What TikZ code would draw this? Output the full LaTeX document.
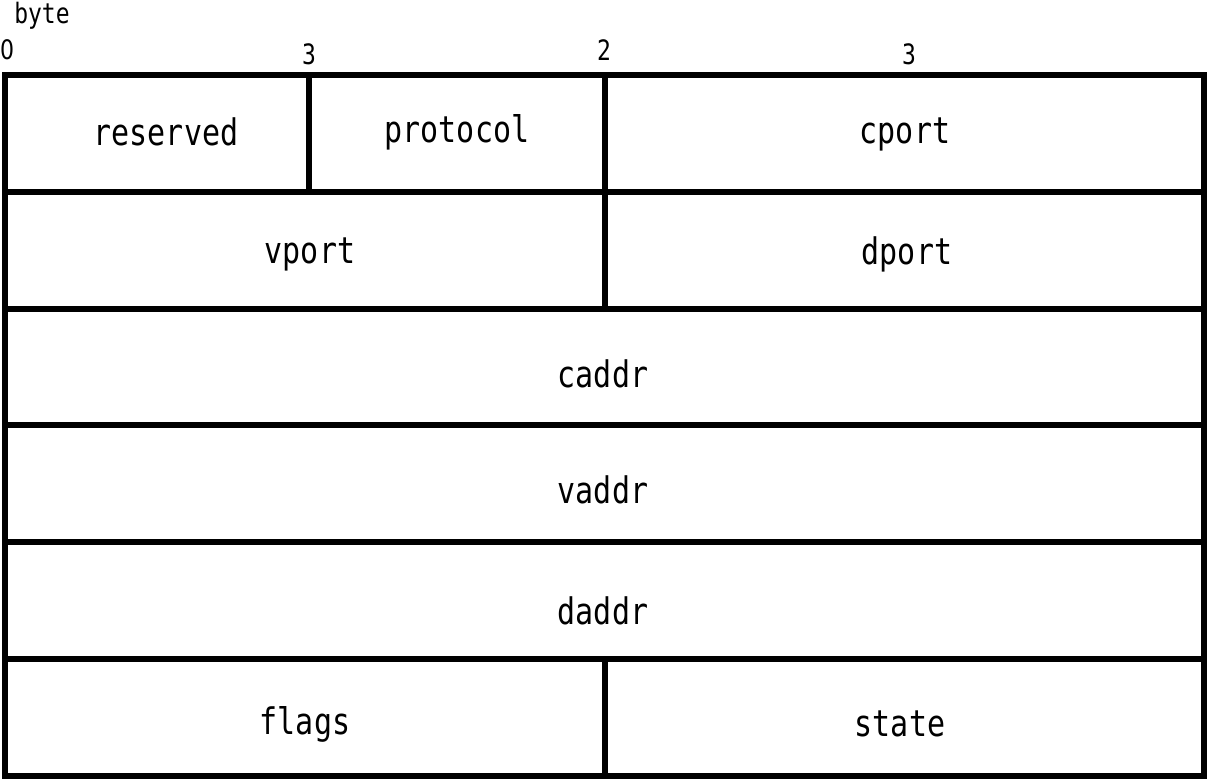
\documentclass[tikz,border=0pt]{standalone}
\usepackage{fontspec}
\usepackage{graphicx}
\setmonofont{DejaVu Sans Mono}
\setsansfont{DejaVu Sans}
% monospaced glyphs, drawn a little taller than wide
\newcommand{\tallmono}[1]{\scalebox{1}[1.22]{#1}}
\begin{document}
\begin{tikzpicture}[x=1pt,y=-1pt,
  frame/.style={line width=6pt,line join=miter},
  field/.style={font=\ttfamily\fontsize{30}{30}\selectfont,inner sep=0pt,anchor=center},
  tick/.style={font=\ttfamily\fontsize{23}{23}\selectfont,inner sep=0pt,anchor=center}]
  \useasboundingbox (0,0) rectangle (1207,779);
  % row boundaries
  \def\ya{75}\def\yb{192}\def\yc{309}\def\yd{425}\def\ye{542}\def\yf{659}\def\yg{776}
  % outer frame and row separators
  \draw[frame] (5,\ya) rectangle (1204,\yg);
  \foreach \yy in {\yb,\yc,\yd,\ye,\yf} \draw[frame] (5,\yy) -- (1204,\yy);
  % column separators
  \draw[frame] (309,\ya) -- (309,\yb);
  \draw[frame] (605,\ya) -- (605,\yc);
  \draw[frame] (605,\yf) -- (605,\yg);
  % byte offsets
  \node[tick] (byte) at (42,16) {\tallmono{byte}};
  \node[tick,font=\sffamily\fontsize{22}{22}\selectfont] (o0) at (7,50) {\tallmono{0}};
  \node[tick] (o3a) at (309,54) {\tallmono{3}};
  \node[tick] (o2) at (604,50) {\tallmono{2}};
  \node[tick] (o3b) at (909,54) {\tallmono{3}};
  % field names
  \node[field] (reserved) at (166,132) {\tallmono{reserved}};
  \node[field] (protocol) at (457,132) {\tallmono{protocol}};
  \node[field] (cport) at (905,134) {\tallmono{cport}};
  \node[field] (vport) at (310,254) {\tallmono{vport}};
  \node[field] (dport) at (907,254) {\tallmono{dport}};
  \node[field] (caddr) at (603,374) {\tallmono{caddr}};
  \node[field] (vaddr) at (603,490) {\tallmono{vaddr}};
  \node[field] (daddr) at (603,611) {\tallmono{daddr}};
  \node[field] (flags) at (305,724) {\tallmono{flags}};
  \node[field] (state) at (900,724) {\tallmono{state}};
\end{tikzpicture}
\end{document}
